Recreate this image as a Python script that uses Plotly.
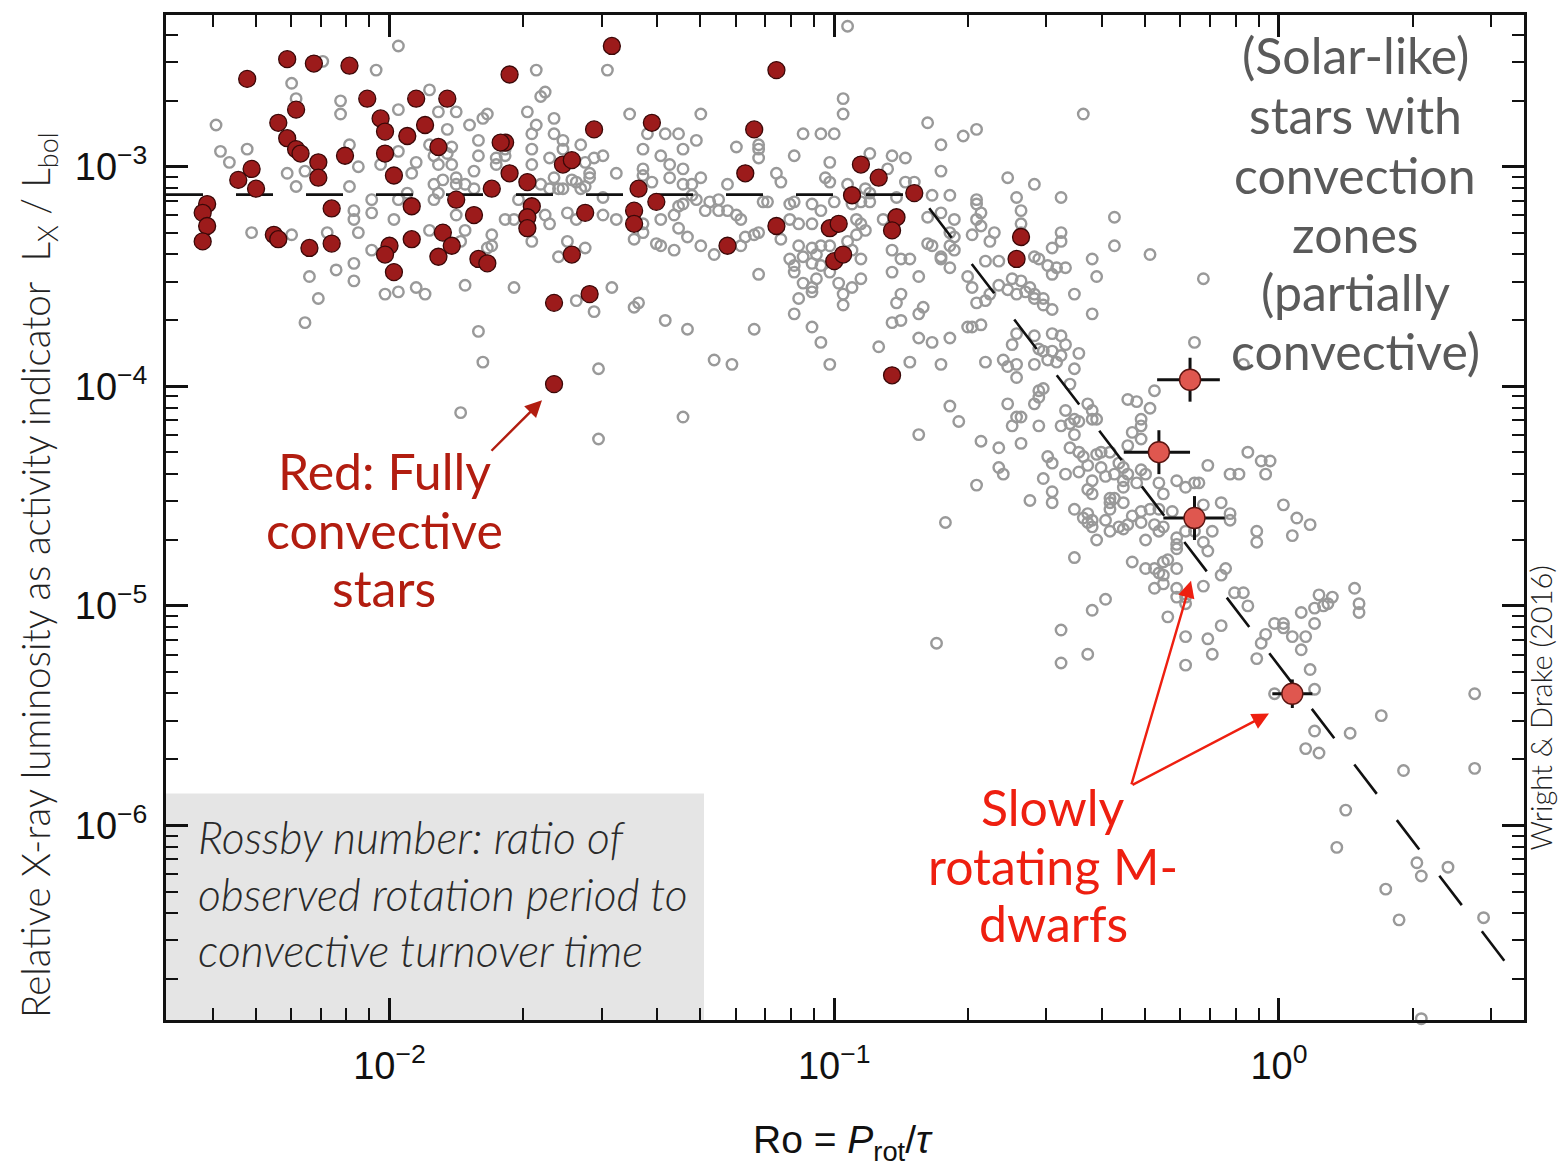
import numpy as np
import plotly.graph_objects as go

# ---------------------------------------------------------------------------
# Data: log10(Ro) and log10(Lx/Lbol)
# ---------------------------------------------------------------------------

# partially convective (solar-like) stars
gray_log_ro = [
    -1.98, -2.15, -2.03, -1.67, -2.22, -2.21, -2.11, -2.11, -1.98, -1.91,
    -1.89, -1.85, -1.79, -1.78, -1.82, -1.87, -1.69, -1.65, -1.66, -1.63,
    -1.67, -1.68, -1.63, -1.68, -1.64, -1.61, -1.61, -1.57, -1.56, -1.54,
    -1.55, -1.55, -1.58, -1.56, -2.39, -2.38, -2.36, -2.32, -2.23, -2.21,
    -2.19, -2.09, -2.07, -2.09, -2.08, -2.08, -2.07, -2.04, -2.04, -1.99,
    -2.02, -1.98, -1.94, -1.95, -1.91, -1.90, -1.87, -1.86, -1.89, -1.86,
    -1.90, -1.88, -1.85, -1.85, -1.83,
    -1.81, -1.80, -1.80, -1.81, -1.90, -1.89, -1.85, -1.83, -1.84, -1.83,
    -1.77, -1.77, -1.78, -1.91, -1.96, -1.98, -2.04, -2.08, -2.08, -2.12,
    -2.18, -2.16, -2.19, -2.01, -1.98, -1.94, -1.92, -1.80, -1.72, -1.58,
    -1.54, -1.56, -1.60, -1.62, -1.58, -1.60, -1.64, -1.65, -1.68, -1.74,
    -1.72, -1.71, -1.76, -1.76, -1.74, -1.74, -1.68, -1.66, -1.64, -1.62,
    -1.61, -1.59, -1.57, -1.63, -2.22, -2.31, -2.14, -1.79, -1.84, -1.53,
    -1.53,
    -1.51, -1.46, -1.30, -1.07, -1.03, -1.00, -1.42, -1.38, -1.35,
    -1.31, -1.52, -1.43, -1.39, -1.34, -1.22, -1.17, -1.17, -1.17, -1.09,
    -1.01, -1.49, -1.43, -1.43, -1.41, -1.37, -1.37, -1.34, -1.34, -1.32,
    -1.30, -1.24, -1.13, -1.12, -1.02, -1.01, -1.52, -1.52, -1.49, -1.45,
    -1.43, -1.39, -1.36, -1.35, -1.34, -1.32, -1.31, -1.29, -1.28, -1.26,
    -1.26, -1.24, -1.22, -1.21, -1.16, -1.15, -1.10, -1.09, -1.10, -1.08,
    -1.05, -1.05, -1.03, -1.00, -1.12, -1.17, -1.18, -1.20, -1.21, -1.27,
    -1.30, -1.33, -1.35, -1.36, -1.39, -1.40, -1.45, -1.43, -1.17, -1.50,
    -1.45, -1.44, -1.38, -1.33, -1.18, -1.08, -1.07, -1.05, -1.04, -1.03,
    -1.01, -1.10, -1.09, -1.09, -1.07, -1.05, -1.04, -1.05, -1.05, -1.03,
    -1.01, -1.08, -1.09, -1.05, -1.27, -1.23, -1.34, -1.03, -1.01,
    -0.97, -0.98, -0.98, -0.79, -0.71, -0.68, -0.92, -0.87, -0.84, -0.76,
    -0.76, -0.97, -0.92, -0.88, -0.84, -0.82, -0.78, -0.74, -0.68, -0.68,
    -0.67, -0.68, -0.67, -0.69, -0.64, -0.65, -0.73, -0.74, -0.73, -0.76,
    -0.79, -0.79, -0.78, -0.74, -0.73, -0.76, -0.74, -0.76, -0.81, -0.66,
    -0.70, -0.69, -0.68, -0.66, -0.65, -0.69, -0.67, -0.70, -0.95, -0.94,
    -0.93, -0.89, -0.86, -0.95, -0.97, -0.96, -0.94, -0.94, -0.96, -0.98,
    -0.98, -0.99, -0.87, -0.85, -0.83, -0.87, -0.86, -0.85, -0.87, -0.85,
    -0.81, -0.80, -0.74, -0.78, -0.96, -0.94, -0.92, -0.93, -0.90, -0.81,
    -0.83, -0.76, -0.74, -0.72, -0.81, -0.75, -0.77, -0.68, -0.63, -0.66,
    -0.67, -0.63,
    -0.44, -0.61, -0.55, -0.59, -0.49, -0.58, -0.37, -0.58, -0.49, -0.49,
    -0.51, -0.54, -0.52, -0.50, -0.48, -0.51, -0.42, -0.41, -0.37, -0.29,
    -0.17, -0.46, -0.42, -0.63, -0.61, -0.59, -0.57, -0.55, -0.55, -0.53,
    -0.53, -0.51, -0.58, -0.60, -0.55, -0.58, -0.56, -0.63,
    -0.19, -0.59, -0.60, -0.55, -0.51, -0.49, -0.48, -0.51, -0.53, -0.54,
    -0.45, -0.62, -0.61, -0.59, -0.59, -0.55, -0.52, -0.50, -0.49, -0.46,
    -0.47, -0.54, -0.54, -0.55, -0.53, -0.61, -0.59, -0.60, -0.58, -0.54,
    -0.48, -0.46, -0.45, -0.49, -0.47, -0.43, -0.42, -0.42, -0.41, -0.34,
    -0.32, -0.28, -0.29, -0.31, -0.31, -0.33, -0.31, -0.34, -0.46, -0.47,
    -0.45, -0.44, -0.52, -0.51, -0.53, -0.58, -0.62, -0.48, -0.45, -0.43,
    -0.42, -0.43, -0.42, -0.41, -0.40, -0.38, -0.40, -0.39, -0.37, -0.36,
    -0.35, -0.34, -0.35, -0.35, -0.32, -0.30, -0.31, -0.51, -0.56, -0.51,
    -0.46, -0.43, -0.42, -0.44, -0.42, -0.43, -0.38, -0.38, -0.37,
    -0.35, -0.38, -0.39, -0.36, -0.35, -0.38, -0.34, -0.41, -0.33, -0.31,
    -0.29, -0.27, -0.31, -0.28, -0.26, -0.27, -0.30, -0.27, -0.26, -0.23,
    -0.21, -0.19, -0.18, -0.16, -0.24, -0.23, -0.23, -0.23, -0.21, -0.19,
    -0.17, -0.16, -0.15, -0.13, -0.11, -0.11, -0.17, -0.46, -0.33, -0.30,
    -0.28, -0.26, -0.25, -0.27, -0.26, -0.23, -0.28, -0.26, -0.23, -0.23,
    -0.21, -0.21, -0.17, -0.13, -0.12, -0.10, -0.08, -0.07, -0.13, -0.16,
    -0.21, -0.25, -0.39, -0.42, -0.49, -0.07, -0.04, -0.02, -0.03, -0.11,
    -0.09, 0.01, 0.04, 0.07, -0.05, -0.05, 0.03, 0.09, 0.12, 0.11,
    0.10, 0.17, 0.18, 0.18, 0.05, 0.08, -0.01, 0.01, 0.01, -0.03,
    0.03, 0.06, -0.08,
    -0.49, -0.43, -0.21, -0.15, -0.04, -0.05, 0.05, 0.07, 0.08, -0.01,
    0.08, 0.08, 0.06, 0.09, 0.16, 0.23, 0.28, 0.15, 0.13, 0.24,
    0.27, 0.31, 0.32, 0.38, 0.44, 0.44, 0.46, 0.32,
]
gray_log_rx = [
    -2.45, -2.52, -2.56, -2.56, -2.62, -2.69, -2.70, -2.76, -2.74, -2.65,
    -2.75, -2.75, -2.78, -2.76, -2.81, -2.83, -2.75, -2.66, -2.68, -2.78,
    -2.81, -2.85, -2.85, -2.92, -2.96, -2.88, -2.92, -2.90, -2.98, -2.96,
    -3.03, -3.05, -3.07, -3.09, -2.81, -2.93, -2.98, -2.92, -3.03, -3.09,
    -3.02, -2.90, -3.00, -3.09, -3.20, -3.24, -3.30, -3.15, -3.21, -3.24,
    -2.99, -2.93, -2.98, -3.03, -2.90, -2.95, -2.94, -2.91, -2.99, -2.99,
    -3.08, -3.06, -3.05, -3.08, -3.08,
    -3.02, -2.95, -2.88, -3.10, -3.15, -3.12, -3.22, -3.29, -3.34, -3.54,
    -3.31, -3.36, -3.37, -3.29, -3.12, -3.15, -3.38, -3.44, -3.52, -3.47,
    -3.50, -3.60, -3.71, -3.58, -3.57, -3.55, -3.58, -3.75, -3.55, -3.61,
    -3.66, -3.37, -3.34, -3.41, -3.24, -3.21, -3.26, -3.22, -3.34, -3.24,
    -3.24, -3.15, -2.99, -2.96, -2.95, -2.92, -2.99, -3.08, -3.10, -3.10,
    -3.10, -3.06, -3.10, -3.05, -3.31, -3.30, -3.30, -3.89, -4.12, -3.92,
    -4.24,
    -2.56, -2.76, -2.76, -2.85, -2.85, -2.85, -2.85, -2.85, -2.85,
    -2.88, -2.95, -2.92, -2.95, -2.92, -2.91, -2.90, -2.92, -2.96, -2.95,
    -2.98, -3.03, -3.01, -3.04, -3.07, -2.99, -3.05, -3.01, -3.08, -3.08,
    -3.05, -3.08, -3.03, -3.07, -3.05, -3.07, -3.14, -3.22, -3.24, -3.24,
    -3.26, -3.24, -3.22, -3.18, -3.17, -3.13, -3.15, -3.20, -3.16, -3.15,
    -3.20, -3.20, -3.22, -3.24, -3.16, -3.16, -3.17, -3.16, -3.24, -3.26,
    -3.26, -3.17, -3.20, -3.16, -3.33, -3.30, -3.31, -3.32, -3.36, -3.40,
    -3.36, -3.32, -3.28, -3.38, -3.36, -3.35, -3.33, -3.30, -3.49, -3.55,
    -3.64, -3.62, -3.70, -3.74, -3.74, -3.36, -3.41, -3.37, -3.40, -3.36,
    -3.36, -3.42, -3.45, -3.48, -3.53, -3.44, -3.51, -3.55, -3.57, -3.45,
    -3.48, -3.60, -3.67, -3.73, -3.88, -3.90, -4.14, -3.80, -3.90,
    -2.36, -2.69, -2.76, -2.80, -2.86, -2.83, -2.94, -2.95, -2.96, -2.90,
    -3.02, -3.08, -3.12, -3.01, -3.07, -3.07, -3.13, -3.13, -3.15, -3.17,
    -3.21, -3.24, -3.27, -3.31, -3.30, -3.34, -3.24, -3.30, -3.32, -3.21,
    -3.23, -3.35, -3.36, -3.36, -3.38, -3.42, -3.46, -3.41, -3.50, -3.43,
    -3.50, -3.55, -3.62, -3.61, -3.58, -3.73, -3.72, -3.73, -3.24, -3.26,
    -3.29, -3.24, -3.14, -3.31, -3.34, -3.38, -3.42, -3.51, -3.55, -3.58,
    -3.63, -3.53, -3.38, -3.42, -3.42, -3.48, -3.62, -3.58, -3.71, -3.70,
    -3.67, -3.64, -3.78, -3.80, -3.17, -3.16, -3.16, -3.10, -3.82, -3.78,
    -3.89, -3.90, -4.09, -4.16, -4.22, -4.62, -5.17, -4.45, -4.37, -3.89,
    -4.25, -4.28,
    -2.76, -3.05, -3.08, -3.14, -3.14, -3.20, -3.23, -3.26, -3.30, -3.34,
    -3.37, -3.42, -3.45, -3.46, -3.46, -3.49, -3.42, -3.50, -3.36, -3.40,
    -3.51, -3.58, -3.67, -3.54, -3.56, -3.58, -3.57, -3.58, -3.60, -3.60,
    -3.63, -3.65, -3.52, -3.51, -3.41, -3.30, -3.55, -3.43,
    -3.80, -3.76, -3.81, -3.77, -3.76, -3.77, -3.81, -3.84, -3.84, -3.83,
    -3.85, -3.88, -3.91, -3.90, -3.96, -3.90, -3.88, -3.89, -3.86, -3.92,
    -3.99, -4.02, -4.05, -4.08, -4.01, -4.08, -4.14, -4.18, -4.14, -4.18,
    -4.11, -4.15, -4.16, -4.18, -4.17, -4.08, -4.11, -4.15, -4.15, -4.06,
    -4.07, -4.02, -4.10, -4.15, -4.18, -4.21, -4.24, -4.27, -4.22, -4.28,
    -4.30, -4.32, -4.32, -4.35, -4.42, -4.26, -4.40, -4.40, -4.39, -4.36,
    -4.43, -4.47, -4.49, -4.31, -4.30, -4.30, -4.37, -4.41, -4.40, -4.35,
    -4.37, -4.40, -4.43, -4.46, -4.44, -4.40, -4.38, -4.48, -4.52, -4.53,
    -4.56, -4.58, -4.61, -4.60, -4.64, -4.62, -4.51, -4.53, -4.51,
    -4.53, -4.56, -4.61, -4.64, -4.65, -4.66, -4.63, -4.70, -4.59, -4.57,
    -4.56, -4.56, -4.62, -4.63, -4.64, -4.66, -4.70, -4.44, -4.49, -4.43,
    -4.46, -4.44, -4.44, -4.36, -4.57, -4.69, -4.72, -4.74, -4.66, -4.66,
    -4.71, -4.75, -4.66, -4.53, -4.61, -4.58, -4.54, -4.78, -4.80, -4.83,
    -4.83, -4.80, -4.79, -4.85, -4.86, -4.83, -4.92, -4.90, -4.92, -4.96,
    -4.96, -4.99, -4.91, -4.86, -4.83, -4.94, -4.94, -5.00, -5.09, -5.15,
    -5.14, -5.05, -4.97, -5.02, -5.11, -4.30, -4.34, -4.34, -4.40, -4.40,
    -4.40, -4.54, -4.60, -4.63, -4.66, -4.71, -4.68, -4.95, -4.96, -4.99,
    -5.00, -4.92, -4.99, -5.03, -5.03, -5.08, -5.08, -5.08, -5.10, -5.13,
    -5.14, -5.14, -3.90,
    -5.26, -5.22, -5.27, -5.22, -5.17, -5.24, -5.20, -5.29, -5.01, -5.40,
    -5.38, -5.57, -5.65, -5.67, -5.58, -5.50, -5.75, -5.93, -6.10, -6.29,
    -6.43, -6.17, -6.23, -6.19, -5.40, -5.74, -6.42, -6.88,
]

# fully convective stars
red_log_ro = [
    -1.50, -2.32, -2.23, -2.17, -2.09, -1.73, -2.05, -2.21, -2.25, -2.23,
    -2.21, -2.20, -2.16, -2.16, -2.10, -2.02, -2.01, -1.94, -1.87, -1.92,
    -1.96, -2.01, -1.89, -1.99, -1.74, -1.75, -1.54, -1.61, -1.59, -1.73,
    -1.77, -1.69, -1.68, -1.69, -1.69, -1.85, -1.81, -1.95, -2.13, -2.30,
    -2.31, -2.34, -2.41, -2.42, -2.41, -2.42, -2.26, -2.25, -2.18, -2.13,
    -2.00, -2.01, -1.99, -1.95, -1.88, -1.86, -1.89, -1.80, -1.78, -1.56,
    -1.59, -1.63, -1.55, -1.63, -1.13, -1.41, -1.18, -1.20, -1.44, -1.45,
    -1.45, -1.40, -1.24, -1.13, -0.94, -0.90, -0.96, -0.82, -1.01, -0.99,
    -1.00, -0.98, -0.86, -0.87, -0.58, -0.59, -0.87,
]
red_log_rx = [
    -2.45, -2.60, -2.51, -2.53, -2.54, -2.58, -2.69, -2.74, -2.80, -2.87,
    -2.92, -2.94, -2.98, -3.05, -2.95, -2.78, -2.84, -2.69, -2.69, -2.81,
    -2.86, -2.94, -2.91, -3.04, -2.89, -2.89, -2.83, -2.99, -2.97, -3.03,
    -3.10, -3.07, -3.18, -3.23, -3.28, -3.15, -3.22, -3.18, -3.19, -3.10,
    -3.01, -3.06, -3.17, -3.21, -3.27, -3.34, -3.31, -3.33, -3.37, -3.35,
    -3.36, -3.40, -3.48, -3.33, -3.30, -3.36, -3.41, -3.42, -3.44, -3.21,
    -3.40, -3.62, -3.58, -3.99, -2.56, -2.80, -2.83, -3.03, -3.10, -3.20,
    -3.26, -3.16, -3.36, -3.27, -2.99, -3.05, -3.13, -3.12, -3.28, -3.26,
    -3.43, -3.40, -3.23, -3.29, -3.32, -3.42, -3.95,
]

# slowly rotating fully convective M dwarfs, with uncertainties in dex
slow_log_ro = [-0.20, -0.27, -0.19, 0.03]
slow_log_rx = [-3.97, -4.30, -4.60, -5.40]
slow_dex_ro_minus = [0.074, 0.079, 0.070, 0.045]
slow_dex_ro_plus = [0.067, 0.070, 0.068, 0.045]
slow_dex_rx = [0.10, 0.10, 0.10, 0.065]

# saturated / unsaturated activity-rotation relation
fit_log_rx_sat = -3.127
fit_log_ro_sat = -0.81
fit_slope = -2.65

X_RANGE = [-2.5025, 0.5509]
Y_RANGE = [-6.886, -2.309]

# ---------------------------------------------------------------------------
W, H = 1559, 1173
M_L, M_R, M_T, M_B = 166, 35, 13, 153
PW = W - M_L - M_R
PH = H - M_T - M_B


def pap_x(px):
    """Canvas pixel column -> paper x."""
    return (px - M_L) / PW


def pap_y(py):
    """Canvas pixel row -> paper y."""
    return (H - M_B - py) / PH


gray_ro = 10 ** np.array(gray_log_ro)
gray_rx = 10 ** np.array(gray_log_rx)
red_ro = 10 ** np.array(red_log_ro)
red_rx = 10 ** np.array(red_log_rx)
slow_ro = 10 ** np.array(slow_log_ro)
slow_rx = 10 ** np.array(slow_log_rx)

err_x_plus = slow_ro * (10 ** np.array(slow_dex_ro_plus) - 1)
err_x_minus = slow_ro * (1 - 10 ** -np.array(slow_dex_ro_minus))
err_y_plus = slow_rx * (10 ** np.array(slow_dex_rx) - 1)
err_y_minus = slow_rx * (1 - 10 ** -np.array(slow_dex_rx))

fit_lx = np.array([X_RANGE[0], fit_log_ro_sat, X_RANGE[1]])
fit_ly = np.where(fit_lx <= fit_log_ro_sat, fit_log_rx_sat,
                  fit_log_rx_sat + fit_slope * (fit_lx - fit_log_ro_sat))

fig = go.Figure()

fig.add_trace(go.Scatter(
    x=gray_ro, y=gray_rx, mode="markers", cliponaxis=False, hoverinfo="skip",
    marker=dict(symbol="circle-open", size=10.5, color="#999999",
                line=dict(width=2.4)),
))

fig.add_trace(go.Scatter(
    x=10 ** fit_lx, y=10 ** fit_ly, mode="lines", hoverinfo="skip",
    line=dict(color="#111111", width=2.6, dash="37px,33px"),
))

fig.add_trace(go.Scatter(
    x=red_ro, y=red_rx, mode="markers", hoverinfo="skip",
    marker=dict(symbol="circle", size=17, color="#9c1b1b",
                line=dict(color="#3a0808", width=1.3)),
))

fig.add_trace(go.Scatter(
    x=slow_ro, y=slow_rx, mode="markers", hoverinfo="skip",
    marker=dict(symbol="circle", size=21, color="#df574f",
                line=dict(color="#5a1410", width=1.4)),
    error_x=dict(type="data", symmetric=False, array=err_x_plus,
                 arrayminus=err_x_minus, color="#111111", thickness=3, width=0),
    error_y=dict(type="data", symmetric=False, array=err_y_plus,
                 arrayminus=err_y_minus, color="#111111", thickness=3, width=0),
))

TICK_FONT = dict(family="Liberation Sans, Arial, sans-serif", size=38, color="#111111")

x_major = [1e-2, 1e-1, 1e0]
x_major_text = ["10<sup>\u22122</sup>", "10<sup>\u22121</sup>", "10<sup>0</sup>"]
y_major = [1e-6, 1e-5, 1e-4, 1e-3]
y_major_text = ["10<sup>\u22126</sup>", "10<sup>\u22125</sup>", "10<sup>\u22124</sup>",
                "10<sup>\u22123</sup>"]

x_minor = [m * 10.0 ** e for e in range(-3, 1) for m in range(2, 10)
           if X_RANGE[0] <= np.log10(m * 10.0 ** e) <= X_RANGE[1]]
y_minor = [m * 10.0 ** e for e in range(-7, -2) for m in range(2, 10)
           if Y_RANGE[0] <= np.log10(m * 10.0 ** e) <= Y_RANGE[1]]

axis_common = dict(
    type="log", tickmode="array", ticks="inside", ticklen=22, tickwidth=2.6,
    tickcolor="#111111", showline=True, linewidth=3, linecolor="#111111",
    mirror="ticks", showgrid=False, zeroline=False, tickfont=TICK_FONT,
)

fig.update_xaxes(
    range=X_RANGE, tickvals=x_major, ticktext=x_major_text, ticklabelstandoff=10,
    minor=dict(tickmode="array", tickvals=x_minor, ticks="inside", ticklen=12,
               tickwidth=2.2, tickcolor="#111111", showgrid=False),
    **axis_common,
)
fig.update_yaxes(
    range=Y_RANGE, tickvals=y_major, ticktext=y_major_text, ticklabelstandoff=8,
    minor=dict(tickmode="array", tickvals=y_minor, ticks="inside", ticklen=12,
               tickwidth=2.2, tickcolor="#111111", showgrid=False),
    **axis_common,
)

# grey note box in the lower left corner
fig.add_shape(type="rect", xref="paper", yref="paper", x0=0, x1=pap_x(704),
              y0=0, y1=pap_y(793), fillcolor="#e5e5e5", line=dict(width=0),
              layer="below")

LABEL_FAMILY = "Lato, 'Open Sans', sans-serif"
annotations = []


def text_lines(lines, x, ys, size, color, xanchor="center", style="normal",
               weight=400):
    for line, y in zip(lines, ys):
        annotations.append(dict(
            text=line, xref="paper", yref="paper", x=pap_x(x), y=pap_y(y),
            xanchor=xanchor, yanchor="middle", showarrow=False,
            font=dict(family=LABEL_FAMILY, size=size, color=color,
                      style=style, weight=weight),
        ))


text_lines(["(Solar-like)", "stars with", "convection", "zones", "(partially",
            "convective)"], 1355, [53, 113, 173, 232, 291, 350], 50, "#5a5a5a")
text_lines(["Red: Fully", "convective", "stars"], 384, [470, 529, 587], 50,
           "#b21d10")
text_lines(["Slowly", "rotating M-", "dwarfs"], 1053, [807, 866, 923], 50,
           "#ee1f10")
text_lines(["Rossby number: ratio of", "observed rotation period to",
            "convective turnover time"], 196, [836, 893, 949], 44.5, "#2a2a2a",
           xanchor="left", style="italic", weight=300)

# axis titles and credit
annotations.append(dict(
    text="Relative X-ray luminosity as activity indicator\u00a0 L<sub>X</sub> / L<sub>bol</sub>",
    xref="paper", yref="paper", x=pap_x(38), y=pap_y(574), textangle=-90,
    xanchor="center", yanchor="middle", showarrow=False,
    font=dict(family=LABEL_FAMILY, size=38.5, color="#222222", weight=300),
))
annotations.append(dict(
    text="Ro = <i>P</i><sub>rot</sub>/<i>\u03c4</i>",
    xref="paper", yref="paper", x=pap_x(843), y=pap_y(1143),
    xanchor="center", yanchor="middle", showarrow=False,
    font=dict(family="Liberation Sans, Arial, sans-serif", size=39, color="#111111"),
))
annotations.append(dict(
    text="Wright & Drake (2016)", xref="paper", yref="paper",
    x=pap_x(1541), y=pap_y(708), textangle=-90, xanchor="center",
    yanchor="middle", showarrow=False,
    font=dict(family=LABEL_FAMILY, size=29, color="#222222", weight=300),
))


def arrow(tip, tail, color):
    annotations.append(dict(
        text="", xref="paper", yref="paper", x=pap_x(tip[0]), y=pap_y(tip[1]),
        axref="pixel", ayref="pixel", ax=tail[0] - tip[0], ay=tail[1] - tip[1],
        showarrow=True, arrowhead=2, arrowsize=1.4, arrowwidth=2.4,
        arrowcolor=color, standoff=0,
    ))


arrow((542, 399), (490, 451), "#b21d10")
arrow((1191, 580), (1131, 785), "#ee1f10")
arrow((1269, 713), (1131, 785), "#ee1f10")

fig.update_layout(
    width=W, height=H, margin=dict(l=M_L, r=M_R, t=M_T, b=M_B),
    paper_bgcolor="white", plot_bgcolor="white", showlegend=False,
    annotations=annotations, hovermode=False,
)

fig.write_html("out.html")
